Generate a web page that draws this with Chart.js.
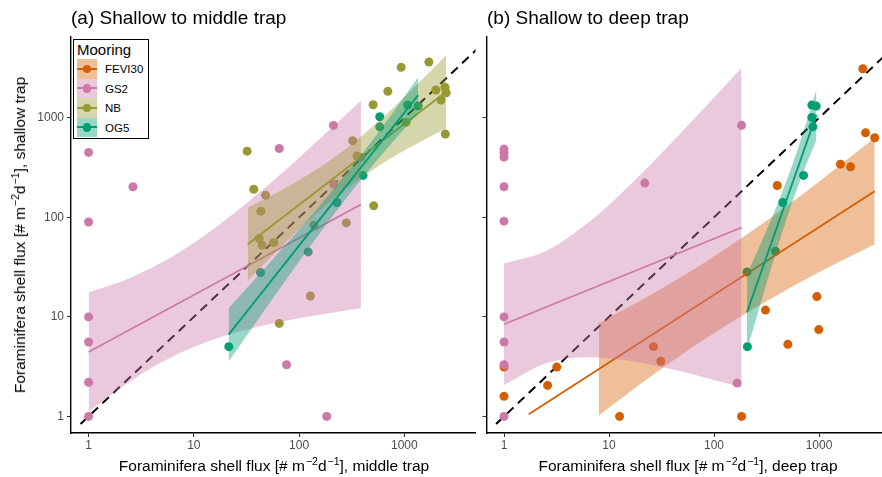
<!DOCTYPE html>
<html>
<head>
<meta charset="utf-8">
<script src="https://cdn.jsdelivr.net/npm/chart.js@4.4.1/dist/chart.umd.min.js"></script>
<style>
  body { margin: 0; width: 882px; height: 477px; overflow: hidden; background: #fff; position: relative;
         font-family: "Liberation Sans", Arial, sans-serif; color: #000; }
  canvas.panel { position: absolute; top: 0; }
  #left { left: 0; }
  #right { left: 416px; }
  .title { position: absolute; top: 8px; font-size: 19px; line-height: 19px; white-space: nowrap; }
  .xtitle { position: absolute; top: 458px; font-size: 15.5px; line-height: 16px; white-space: nowrap; transform: translateX(-50%); }
  .ytitle { position: absolute; left: 20px; top: 235px; font-size: 15.5px; line-height: 16px; white-space: nowrap;
            transform: translate(-50%, -50%) rotate(-90deg); }
  sup { font-size: 0.68em; line-height: 0; vertical-align: 0.55em; margin-left: 1px; }
  #legend { position: absolute; left: 73px; top: 39px; width: 74px; height: 98px; border: 1.3px solid #000; background: #fff; }
  #legend .ltitle { position: absolute; left: 3px; top: 1px; font-size: 15px; line-height: 17px; }
  #legend .row { position: absolute; left: 3px; height: 19.5px; }
  #legend .key { position: absolute; left: 0; top: 0; width: 19.5px; height: 19.5px; }
  #legend .kline { position: absolute; left: 0; top: 8.9px; width: 19.5px; height: 1.8px; }
  #legend .kdot { position: absolute; left: 5.5px; top: 5.5px; width: 8.5px; height: 8.5px; border-radius: 50%; }
  #legend .klab { position: absolute; left: 28px; top: 3px; font-size: 11.5px; line-height: 14px; white-space: nowrap; }
</style>
</head>
<body>
<canvas id="left" class="panel" width="480" height="477"></canvas>
<canvas id="right" class="panel" width="480" height="477"></canvas>
<div class="title" style="left:71px">(a) Shallow to middle trap</div>
<div class="title" style="left:487px">(b) Shallow to deep trap</div>
<div class="ytitle">Foraminifera shell flux [# m<sup>−2</sup>d<sup>−1</sup>], shallow trap</div>
<div class="xtitle" style="left:274px">Foraminifera shell flux [# m<sup>−2</sup>d<sup>−1</sup>], middle trap</div>
<div class="xtitle" style="left:688px">Foraminifera shell flux [# m<sup>−2</sup>d<sup>−1</sup>], deep trap</div>
<div id="legend"><div class="ltitle">Mooring</div></div>
<script>
// Moorings and tick labels
const moorings = ['FEVI30', 'GS2', 'NB', 'OG5'];
const tickVals = [1, 10, 100, 1000];

// 1:1 reference line
const diagX = [0.84, 20000];
const diagY = [0.84, 20000];

// (a) shallow vs middle trap - points
const gs2MidX = [1, 2.64, 1, 64.8, 212, 212, 387, 1, 1, 76, 1, 1, 183];
const gs2MidY = [450, 203, 90, 493, 840, 216, 401, 10, 5.6, 3.3, 2.2, 1, 1];
const nbMidX = [32.1, 37.1, 48, 43.3, 41.8, 44.5, 57.5, 64.8, 128, 138, 281, 323, 355, 505, 512, 697, 933, 1040, 1711, 1995, 2228, 2432, 2450, 2500];
const nbMidY = [463, 192, 167, 115, 61.4, 52.6, 55.9, 8.6, 16.2, 83.5, 88, 589, 413, 1355, 130.6, 1849, 3223, 901, 3641, 1905, 1510, 2030, 687, 1790];
const og5MidX = [584, 584, 1072, 1353, 405, 229, 122, 43, 21.5];
const og5MidY = [1026, 813, 1345, 1315, 264, 141, 45, 27.9, 5.02];

// (a) fitted lines
const gs2MidFitX = [1, 387];
const gs2MidFitY = [4.44, 134.9];
const nbMidFitX = [32.5, 2500];
const nbMidFitY = [53.7, 1832];
const og5MidFitX = [21.4, 1353];
const og5MidFitY = [6.64, 1694];

// (a) confidence bands
const gs2MidBandX = [1, 2.512, 6.31, 15.85, 39.8, 100, 199.5, 387];
const gs2MidBandHi = [17.66, 24.8, 40.6, 78.2, 169.8, 398, 776, 1493];
const gs2MidBandLo = [1.114, 2.275, 4.0, 5.98, 7.91, 9.68, 10.96, 12.19];
const nbMidBandX = [32.5, 63.1, 125.9, 281.8, 631, 1259, 2500];
const nbMidBandHi = [124.7, 180.3, 274.8, 493.3, 1019, 2056, 4250];
const nbMidBandLo = [23.1, 47.0, 95.1, 196.3, 352.4, 535.8, 785];
const og5MidBandX = [21.4, 50.1, 125.9, 316.2, 707.9, 1353];
const og5MidBandHi = [12.3, 33.1, 99.5, 322, 988, 2559];
const og5MidBandLo = [3.57, 12.9, 50.4, 183.2, 514, 1122];

// (b) shallow vs deep trap - points
const feviDeepX = [2612, 2773, 3391, 1599, 1994, 400, 1, 3.18, 2.6, 1, 12.6, 183, 26.5, 31.1, 309, 953, 995, 505];
const feviDeepY = [3118, 708, 631, 343, 322, 209, 3.13, 3.13, 2.05, 1.59, 1, 1, 5.02, 3.58, 11.7, 16, 7.45, 5.3];
const gs2DeepX = [1, 1, 1, 1, 1, 1, 1, 1, 1, 21.9, 183, 166];
const gs2DeepY = [486, 446, 403, 203, 91.6, 10, 5.59, 3.31, 1, 221, 841, 2.16];
const og5DeepX = [854, 940, 854, 873, 712, 452, 385, 206, 208];
const og5DeepY = [1345, 1314, 1011, 813, 264, 141, 45.7, 28.3, 5.02];

// (b) fitted lines
const feviDeepFitX = [1.72, 3391];
const feviDeepFitY = [1.05, 183.6];
const gs2DeepFitX = [1, 183];
const gs2DeepFitY = [8.43, 79.1];
const og5DeepFitX = [206, 944];
const og5DeepFitY = [11.1, 1072];

// (b) confidence bands
const feviDeepBandX = [8.0, 25.1, 100, 316.2, 1000, 3391];
const feviDeepBandHi = [8.69, 16.7, 40.5, 92.5, 228, 630];
const feviDeepBandLo = [1.02, 2.53, 6.87, 14.4, 28.1, 53.6];
const gs2DeepBandX = [1, 2.512, 6.31, 15.85, 39.8, 79.4, 183];
const gs2DeepBandHi = [34.4, 45.9, 88.1, 212, 569, 1233, 3199];
const gs2DeepBandLo = [2.07, 3.42, 3.94, 3.61, 2.97, 2.48, 1.96];
const og5DeepBandX = [206, 281.8, 398.1, 562.3, 741.3, 944];
const og5DeepBandHi = [26.9, 56.0, 132.4, 347.5, 837.5, 1923];
const og5DeepBandLo = [4.68, 14.4, 48.3, 146.9, 321.4, 597];

// Styles
const colors = { FEVI30: '#D55E00', GS2: '#CC79A7', NB: '#999933', OG5: '#009E73' };
const fontFamily = '"Liberation Sans", Arial, sans-serif';
const axisMin = 0.681, xMax = 4742, yMax = 6500;

const pts = (xs, ys) => xs.map((x, i) => ({ x: x, y: ys[i] }));

function rgba(hex, a) {
    const n = parseInt(hex.slice(1), 16);
    return `rgba(${(n >> 16) & 255}, ${(n >> 8) & 255}, ${n & 255}, ${a})`;
}

function panelDatasets(series) {
    const ds = [];
    // lower order = drawn later (on top)
    const push = (d) => { d.order = -ds.length; ds.push(d); };

    push({ data: pts(diagX, diagY), borderColor: '#000', borderWidth: 2, borderDash: [9, 6], pointRadius: 0, fill: false });

    series.forEach(s => push({
        data: pts(s.px, s.py), showLine: false, pointRadius: 4.5,
        pointBackgroundColor: colors[s.name], pointBorderWidth: 0, pointHoverRadius: 4.5
    }));

    series.forEach(s => {
        push({ data: pts(s.bx, s.hi), borderWidth: 0, borderColor: 'rgba(0,0,0,0)', pointRadius: 0, fill: false, cubicInterpolationMode: 'monotone' });
        push({ data: pts(s.bx, s.lo), borderWidth: 0, borderColor: 'rgba(0,0,0,0)', pointRadius: 0, fill: '-1',
               backgroundColor: rgba(colors[s.name], 0.4), cubicInterpolationMode: 'monotone' });
        push({ data: pts(s.fx, s.fy), borderColor: colors[s.name], borderWidth: 1.8, pointRadius: 0, fill: false });
    });
    return ds;
}

function axis(pos, max, showLabels, size) {
    return {
        type: 'logarithmic', position: pos, min: axisMin, max: max,
        afterBuildTicks: s => { s.ticks = tickVals.map(v => ({ value: v })); },
        afterFit: s => { if (pos === 'bottom') s.height = size; else s.width = size; },
        ticks: {
            autoSkip: false, maxRotation: 0, padding: pos === 'bottom' ? 1 : 3,
            color: '#4d4d4d', font: { family: fontFamily, size: 12 },
            callback: v => showLabels ? String(v) : ''
        },
        grid: { drawOnChartArea: false, drawTicks: true, tickLength: 4, tickColor: '#333', tickWidth: 1.1 },
        border: { display: true, color: '#000', width: 1.4 }
    };
}

function makeChart(id, series, yLabels, yWidth, padRight) {
    new Chart(document.getElementById(id), {
        type: 'line',
        data: { datasets: panelDatasets(series) },
        options: {
            responsive: false, animation: false, devicePixelRatio: 1,
            layout: { padding: { top: 37, right: padRight, left: 0, bottom: 0 } },
            plugins: { legend: { display: false }, tooltip: { enabled: false }, title: { display: false } },
            scales: {
                x: axis('bottom', xMax, true, 44),
                y: axis('left', yMax, yLabels, yWidth)
            }
        }
    });
}

makeChart('left', [
    { name: 'GS2', px: gs2MidX, py: gs2MidY, fx: gs2MidFitX, fy: gs2MidFitY, bx: gs2MidBandX, hi: gs2MidBandHi, lo: gs2MidBandLo },
    { name: 'NB', px: nbMidX, py: nbMidY, fx: nbMidFitX, fy: nbMidFitY, bx: nbMidBandX, hi: nbMidBandHi, lo: nbMidBandLo },
    { name: 'OG5', px: og5MidX, py: og5MidY, fx: og5MidFitX, fy: og5MidFitY, bx: og5MidBandX, hi: og5MidBandHi, lo: og5MidBandLo }
], true, 71, 4);

makeChart('right', [
    { name: 'FEVI30', px: feviDeepX, py: feviDeepY, fx: feviDeepFitX, fy: feviDeepFitY, bx: feviDeepBandX, hi: feviDeepBandHi, lo: feviDeepBandLo },
    { name: 'GS2', px: gs2DeepX, py: gs2DeepY, fx: gs2DeepFitX, fy: gs2DeepFitY, bx: gs2DeepBandX, hi: gs2DeepBandHi, lo: gs2DeepBandLo },
    { name: 'OG5', px: og5DeepX, py: og5DeepY, fx: og5DeepFitX, fy: og5DeepFitY, bx: og5DeepBandX, hi: og5DeepBandHi, lo: og5DeepBandLo }
], false, 70.5, 6);

// Legend
const legend = document.getElementById('legend');
moorings.forEach((name, i) => {
    const row = document.createElement('div');
    row.className = 'row';
    row.style.top = (19 + i * 19.5) + 'px';
    row.innerHTML = `<div class="key" style="background:${rgba(colors[name], 0.4)}"></div>
        <div class="kline" style="background:${colors[name]}"></div>
        <div class="kdot" style="background:${colors[name]}"></div>
        <div class="klab">${name}</div>`;
    legend.appendChild(row);
});
</script>
</body>
</html>
